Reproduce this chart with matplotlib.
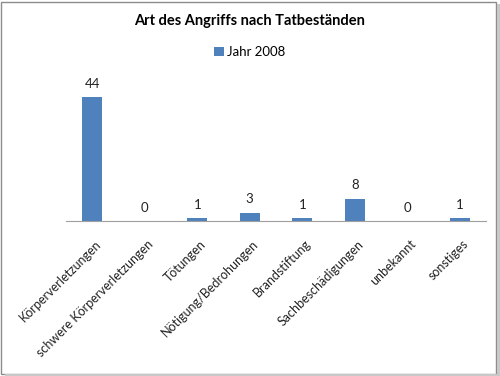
import numpy as np
import matplotlib.pyplot as plt
import matplotlib.transforms as mtransforms
from matplotlib.patches import Rectangle

kategorien = ['Körperverletzungen', 'schwere Körperverletzungen', 'Tötungen',
              'Nötigung/Bedrohungen', 'Brandstiftung', 'Sachbeschädigungen',
              'unbekannt', 'sonstiges']
werte = [44, 0, 1, 3, 1, 8, 0, 1]
serie = 'Jahr 2008'
titel = 'Art des Angriffs nach Tatbeständen'

blau = '#4f81bd'
plt.rcParams['font.family'] = ['Lato', 'DejaVu Sans']

fig = plt.figure(figsize=(5.0, 3.76), dpi=100)
ax = fig.add_axes([0.132, 0.412, 0.84, 0.375])

x = np.arange(len(kategorien))
ax.bar(x, werte, width=0.38, color=blau, label=serie)
for xi, v in zip(x, werte):
    ax.text(xi, v + 2.6, str(v), ha='center', va='bottom', fontsize=9.5, color='#222222')

ax.set_xlim(-0.5, len(kategorien) - 0.5)
ax.set_ylim(0, 50)
ax.set_yticks([])
for s in ['top', 'right', 'left']:
    ax.spines[s].set_visible(False)
ax.spines['bottom'].set_color('#a0a0a0')
ax.set_xticks(x)
ax.set_xticklabels(kategorien, rotation=45, ha='right', rotation_mode='anchor',
                   fontsize=9, color='#222222')
ax.tick_params(axis='x', length=0, pad=12)
# Beschriftung leicht nach rechts schieben
off = mtransforms.ScaledTranslation(2 / 72, 0, fig.dpi_scale_trans)
for lbl in ax.get_xticklabels():
    lbl.set_transform(lbl.get_transform() + off)

fig.text(0.5, 0.945, titel, ha='center', va='center', fontsize=10.5, fontweight='bold')
ax.legend(loc='center', bbox_to_anchor=(0.5, 0.862), bbox_transform=fig.transFigure,
          frameon=False, fontsize=9.5, handlelength=0.7, handleheight=0.7,
          handletextpad=0.3)

# Rahmen mit Schatten
fig.patches.append(Rectangle((0.002, 0.004), 0.99, 0.992, transform=fig.transFigure,
                             fill=False, edgecolor='#8c8c8c', linewidth=1.0))
fig.patches.append(Rectangle((0.994, 0.0), 0.006, 0.99, transform=fig.transFigure,
                             color='#c8c8c8', linewidth=0))
fig.patches.append(Rectangle((0.01, 0.0), 0.99, 0.006, transform=fig.transFigure,
                             color='#c8c8c8', linewidth=0))

fig.savefig('out.png', dpi=100)
